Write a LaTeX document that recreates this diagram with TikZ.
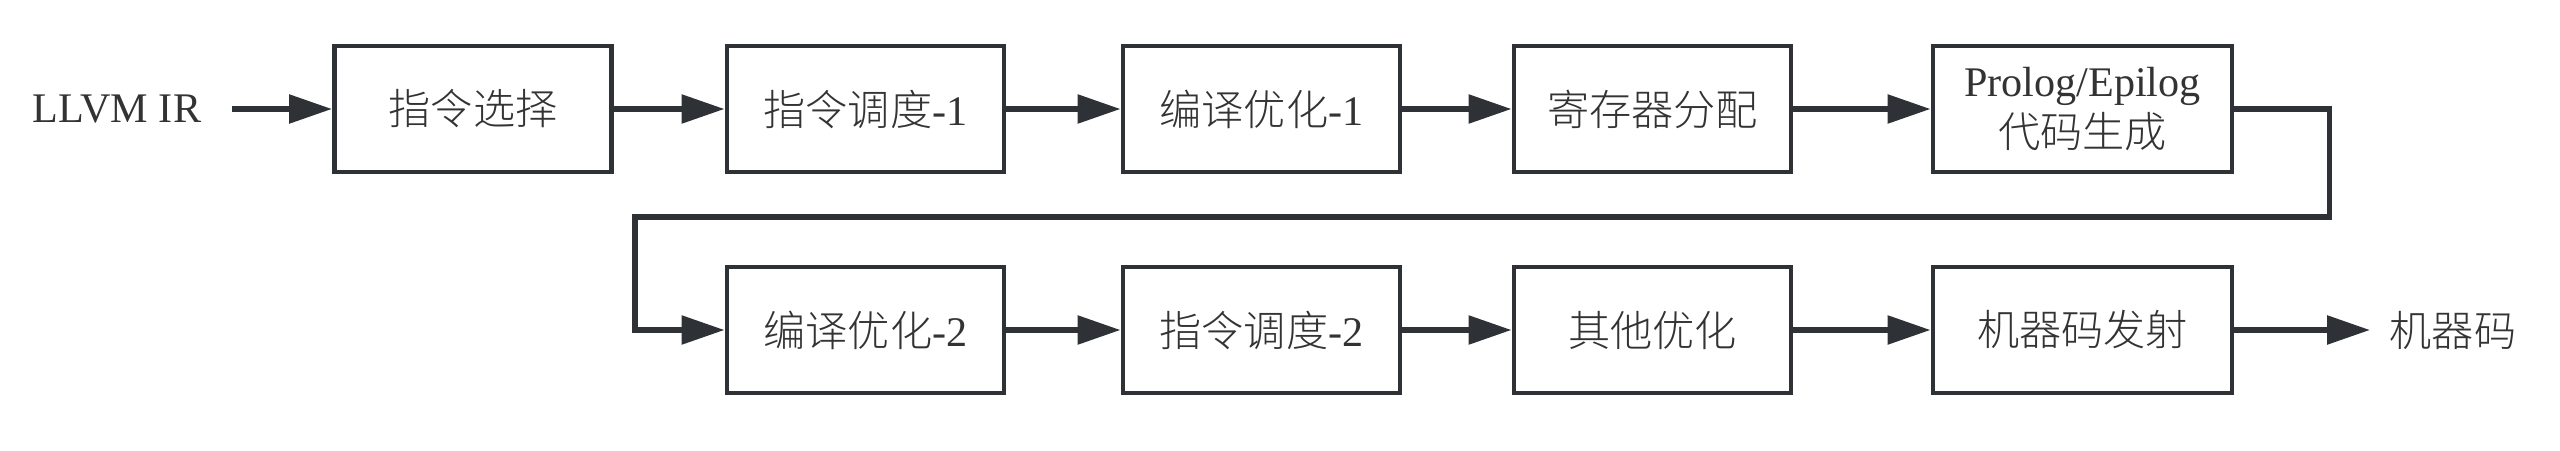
\documentclass[tikz,border=0pt]{standalone}
\usepackage{fontspec}
\setmainfont{Liberation Serif}
\newfontfamily\cjk{Noto Sans CJK SC Light}
\usetikzlibrary{arrows.meta}
\definecolor{linegray}{HTML}{2E3236}
\definecolor{textgray}{HTML}{333333}
\tikzset{
  stage/.style={draw=linegray, line width=1.4pt, minimum width=2.77cm,
    minimum height=1.26cm, inner sep=0pt, text=textgray, align=center,
    font=\fontsize{12}{14.5}\selectfont},
  endtext/.style={text=textgray, font=\fontsize{12}{14.5}\selectfont},
  flow/.style={draw=linegray, line width=1.6pt,
    -{Triangle[length=4.3mm,width=2.8mm]}},
}
\begin{document}
\begin{tikzpicture}
  \useasboundingbox (0,0) rectangle (25.6,4.5);
  % first row
  \node[endtext, inner xsep=0.3cm] (ir) at (1.17,3.41) {LLVM IR};
  \node[stage] (isel) at (4.73,3.41) {{\cjk 指令选择}};
  \node[stage] (sched1) at (8.655,3.41) {{\cjk 指令调度}-1};
  \node[stage] (opt1) at (12.615,3.41) {{\cjk 编译优化}-1};
  \node[stage] (ra) at (16.525,3.41) {{\cjk 寄存器分配}};
  \node[stage, minimum width=2.99cm] (pe) at (20.825,3.41) {Prolog/Epilog\\{\cjk 代码生成}};
  % second row
  \node[stage] (opt2) at (8.655,1.20) {{\cjk 编译优化}-2};
  \node[stage] (sched2) at (12.615,1.20) {{\cjk 指令调度}-2};
  \node[stage] (other) at (16.525,1.20) {{\cjk 其他优化}};
  \node[stage, minimum width=2.99cm] (emit) at (20.825,1.20) {{\cjk 机器码发射}};
  \node[endtext, inner xsep=0.19cm] (mc) at (24.53,1.20) {{\cjk 机器码}};
  \coordinate (turn) at (6.35,2.33);
  \begin{scope}[flow]
    \draw (ir) to (isel);
    \draw (isel) to (sched1);
    \draw (sched1) to (opt1);
    \draw (opt1) to (ra);
    \draw (ra) to (pe);
    \draw (pe.east) -- ++(0.95,0) |- (turn) |- (opt2.west);
    \draw (opt2) to (sched2);
    \draw (sched2) to (other);
    \draw (other) to (emit);
    \draw (emit) to (mc);
  \end{scope}
\end{tikzpicture}
\end{document}
